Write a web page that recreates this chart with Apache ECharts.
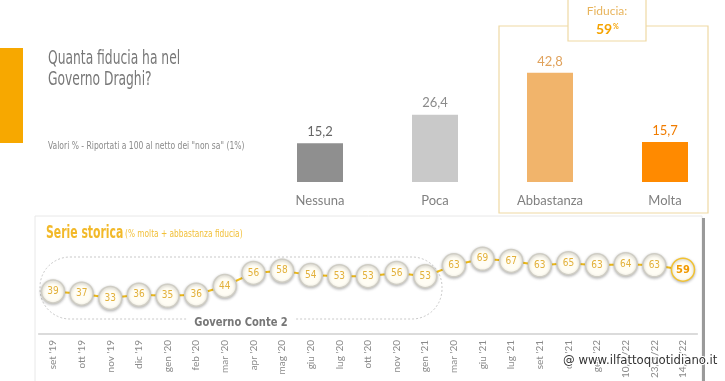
<!DOCTYPE html>
<html>
<head>
<meta charset="utf-8">
<script src="https://cdn.jsdelivr.net/npm/echarts@6/dist/echarts.min.js"></script>
<style>
html,body{margin:0;padding:0;background:#fff;}
#c{width:725px;height:381px;}
</style>
</head>
<body>
<div id="c"></div>
<script>
// ---- data ----
var barCategories = ['Nessuna', 'Poca', 'Abbastanza', 'Molta'];
var barValues = [15.2, 26.4, 42.8, 15.7];
var months = ["set '19","ott '19","nov '19","dic '19","gen '20","feb '20","mar '20","apr '20","mag '20","giu '20","lug '20","ott '20","nov '20","gen '21","mar '20","giu '21","lug '21","set '21","dic '21","gen '22","10/2/22","23/3/22","14/4/22"];
var trustValues = [39,37,33,36,35,36,44,56,58,54,53,53,56,53,63,69,67,63,65,63,64,63,59];
var fiduciaTotal = 59;

var NARROW = '"Liberation Sans Narrow","DejaVu Sans Condensed","Roboto Condensed",sans-serif';
var barColors = ['#8f8f8f', '#c9c9c9', '#f1b46b', '#ff8a00'];
var barLabelColors = ['#666666', '#8a8a8a', '#e0a25c', '#f07c00'];

var chart = echarts.init(document.getElementById('c'), null, {renderer: 'canvas'});

var barData = barValues.map(function (v, i) {
  return {value: v, itemStyle: {color: barColors[i]}, label: {color: barLabelColors[i]}};
});
var lineData = trustValues.map(function (v, i) {
  var last = i === trustValues.length - 1;
  return last ? {
    value: v,
    itemStyle: {color: '#fffdf4', borderColor: '#f2c230', borderWidth: 1.5},
    label: {color: '#f29a00', fontWeight: 'bold', fontSize: 11}
  } : v;
});

var option = {
  animation: false,
  backgroundColor: '#ffffff',
  grid: [
    {left: 262.5, right: 2.5, top: 54.5, bottom: 199},
    {left: 38.7, right: 27.7, top: 225, bottom: 45}
  ],
  xAxis: [
    {
      type: 'category', gridIndex: 0, data: barCategories,
      axisLine: {show: false}, axisTick: {show: false},
      axisLabel: {color: '#808080', fontSize: 13, margin: 12, fontFamily: 'Lato, sans-serif'}
    },
    {
      type: 'category', gridIndex: 1, data: months,
      axisLine: {lineStyle: {color: '#cfcfcf', width: 1.5}}, axisTick: {show: false},
      axisLabel: {rotate: 90, color: '#8a8a8a', fontSize: 10, margin: 6, interval: 0, fontFamily: 'Lato, sans-serif'}
    }
  ],
  yAxis: [
    {type: 'value', gridIndex: 0, min: 0, max: 50, show: false},
    {type: 'value', gridIndex: 1, min: 0, max: 100, show: false}
  ],
  series: [
    {
      type: 'bar', xAxisIndex: 0, yAxisIndex: 0, data: barData, barWidth: 46,
      label: {
        show: true, position: 'top', fontSize: 13, distance: 5, fontFamily: 'Lato, sans-serif',
        formatter: function (p) { return String(p.value).replace('.', ','); }
      }
    },
    {
      type: 'line', xAxisIndex: 1, yAxisIndex: 1, data: lineData, z: 5,
      lineStyle: {color: '#f4bf1a', width: 2},
      symbol: 'circle', symbolSize: 23,
      itemStyle: {color: '#fffdf4', borderColor: '#cfcdc4', borderWidth: 1.5, shadowBlur: 3, shadowColor: 'rgba(0,0,0,0.25)', shadowOffsetY: 1},
      label: {show: true, position: 'inside', color: '#e2b03a', fontSize: 10, fontFamily: NARROW}
    }
  ],
  graphic: [
    // left orange accent
    {type: 'rect', shape: {x: 0, y: 48, width: 23, height: 95}, style: {fill: '#f7a800'}},
    // title
    {type: 'text', x: 48, y: 49, scaleX: 0.72, style: {text: 'Quanta fiducia ha nel\nGoverno Draghi?', fill: '#777777', font: '19px ' + NARROW, lineHeight: 21}},
    {type: 'text', x: 48, y: 141, scaleX: 0.77, style: {text: 'Valori % - Riportati a 100 al netto dei "non sa" (1%)', fill: '#8a8a8a', font: '11px ' + NARROW}},
    // box around Abbastanza / Molta
    {type: 'rect', shape: {x: 499, y: 26, width: 209, height: 187}, style: {fill: 'none', stroke: '#efd9a4', lineWidth: 1.2}},
    {type: 'rect', shape: {x: 568, y: -2, width: 78, height: 43}, style: {fill: '#ffffff', stroke: '#efd9a4', lineWidth: 1.2}},
    {type: 'text', x: 607, y: 5, style: {text: 'Fiducia:', fill: '#e8b45c', font: '12px Lato, sans-serif', align: 'center'}},
    {type: 'text', x: 596, y: 22, style: {text: String(fiduciaTotal), fill: '#f5a300', font: 'bold 14px Lato, sans-serif'}},
    {type: 'text', x: 613, y: 23, style: {text: '%', fill: '#f5a300', font: 'bold 7px Lato, sans-serif'}},
    // lower panel
    {type: 'rect', shape: {x: 35, y: 216, width: 667, height: 170}, style: {fill: 'none', stroke: '#e8e8e8', lineWidth: 1}},
    {type: 'rect', shape: {x: 702, y: 218, width: 3, height: 163}, style: {fill: '#9a9a9a'}},
    {type: 'text', x: 46, y: 224, scaleX: 0.67, style: {text: 'Serie storica', fill: '#f2b92a', font: 'bold 18px ' + NARROW}},
    {type: 'text', x: 125, y: 229, scaleX: 0.75, style: {text: '(% molta + abbastanza fiducia)', fill: '#f2c03a', font: '11px ' + NARROW}},
    // Governo Conte 2 bracket
    {type: 'rect', shape: {x: 40, y: 257, width: 402, height: 62, r: 30}, style: {fill: 'none', stroke: '#c9c9c9', lineWidth: 1, lineDash: [2, 2]}},
    {type: 'text', x: 241, y: 315, scaleX: 0.85, style: {text: 'Governo Conte 2', fill: '#777777', font: 'bold 13px ' + NARROW, align: 'center', backgroundColor: '#ffffff', padding: [1, 8]}},
    // watermark
    {type: 'text', x: 563, y: 354, z: 100, style: {text: '@ www.ilfattoquotidiano.it', fill: '#333333', stroke: '#ffffff', lineWidth: 2, font: '13px "DejaVu Sans Condensed", sans-serif'}}
  ]
};
chart.setOption(option);
</script>
</body>
</html>
